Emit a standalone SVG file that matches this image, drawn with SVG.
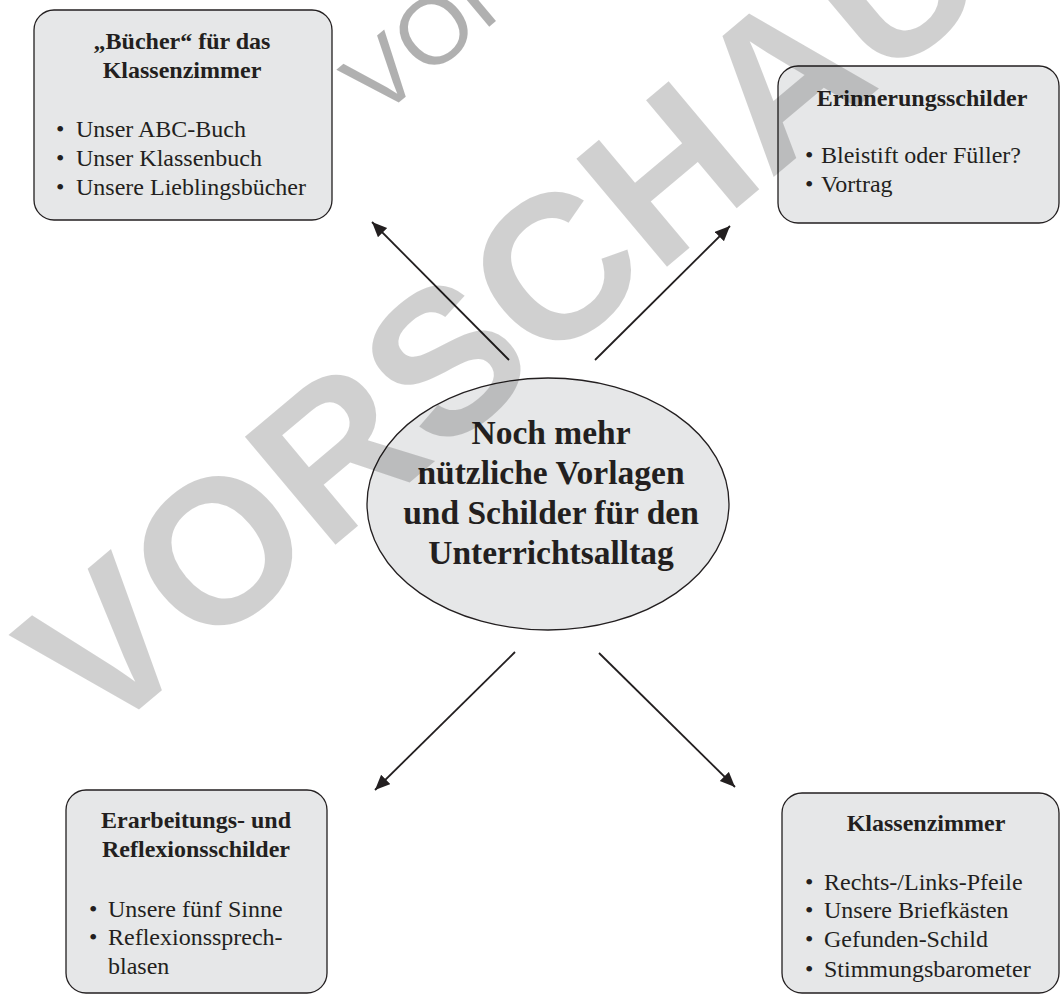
<svg xmlns="http://www.w3.org/2000/svg" width="1060" height="995" viewBox="0 0 1060 995">
<style>
.box{fill:#e6e7e8;stroke:#231f20;stroke-width:1.3}
.t{font-family:"Liberation Serif","Times New Roman",serif;fill:#231f20;font-size:24px}
.b{font-weight:bold}
.m{text-anchor:middle}
.big{font-family:"Liberation Serif","Times New Roman",serif;fill:#231f20;font-size:33.5px;font-weight:bold;text-anchor:middle}
.conn{stroke:#231f20;stroke-width:1.8;fill:none}
.wm{font-family:"Liberation Sans",Arial,sans-serif;fill:#000}
</style>
<defs>
<marker id="ah" markerUnits="userSpaceOnUse" markerWidth="18" markerHeight="14" refX="15" refY="6.5" orient="auto">
<path d="M0,0 L15,6.5 L0,13 Z" fill="#231f20"/>
</marker>
</defs>
<rect width="1060" height="995" fill="#fff"/>
<g id="node-buecher">
<rect class="box" x="34" y="10" width="298" height="210" rx="20"/>
<text class="t b m" x="182" y="49">„Bücher“ für das</text>
<text class="t b m" x="182" y="78">Klassenzimmer</text>
<text class="t" x="56" y="137">•</text><text class="t" x="76" y="137">Unser ABC-Buch</text>
<text class="t" x="56" y="166">•</text><text class="t" x="76" y="166">Unser Klassenbuch</text>
<text class="t" x="56" y="195">•</text><text class="t" x="76" y="195">Unsere Lieblingsbücher</text>
</g>
<g id="node-erinnerung">
<rect class="box" x="778" y="66" width="281" height="157" rx="20"/>
<text class="t b m" x="922" y="106">Erinnerungsschilder</text>
<text class="t" x="805" y="163">•</text><text class="t" x="821" y="163">Bleistift oder Füller?</text>
<text class="t" x="805" y="192">•</text><text class="t" x="821" y="192">Vortrag</text>
</g>
<g id="node-center">
<ellipse class="box" cx="548" cy="504" rx="181" ry="126"/>
<text class="big" x="551" y="444">Noch mehr</text>
<text class="big" x="551" y="484">nützliche Vorlagen</text>
<text class="big" x="551" y="524">und Schilder für den</text>
<text class="big" x="551" y="564">Unterrichtsalltag</text>
</g>
<g id="node-erarbeitung">
<rect class="box" x="66" y="790" width="261" height="203" rx="20"/>
<text class="t b m" x="196" y="828">Erarbeitungs- und</text>
<text class="t b m" x="196" y="857">Reflexionsschilder</text>
<text class="t" x="89" y="917">•</text><text class="t" x="108" y="917">Unsere fünf Sinne</text>
<text class="t" x="89" y="945">•</text><text class="t" x="108" y="945">Reflexionssprech-</text>
<text class="t" x="108" y="974">blasen</text>
</g>
<g id="node-klassenzimmer">
<rect class="box" x="782" y="793" width="277" height="200" rx="20"/>
<text class="t b m" x="926" y="831">Klassenzimmer</text>
<text class="t" x="805" y="890">•</text><text class="t" x="824" y="890">Rechts-/Links-Pfeile</text>
<text class="t" x="805" y="918">•</text><text class="t" x="824" y="918">Unsere Briefkästen</text>
<text class="t" x="805" y="947">•</text><text class="t" x="824" y="947">Gefunden-Schild</text>
<text class="t" x="805" y="977">•</text><text class="t" x="824" y="977">Stimmungsbarometer</text>
</g>
<g id="connectors">
<line class="conn" x1="509" y1="360" x2="372" y2="222" marker-end="url(#ah)"/>
<line class="conn" x1="595" y1="360" x2="730" y2="226" marker-end="url(#ah)"/>
<line class="conn" x1="515" y1="652" x2="375" y2="790" marker-end="url(#ah)"/>
<line class="conn" x1="599" y1="653" x2="735" y2="787" marker-end="url(#ah)"/>
</g>
<g id="watermark">
<text class="wm" font-weight="bold" font-size="205" fill-opacity="0.185" transform="translate(98,744) rotate(-40)">VORSCHAU</text>
<text class="wm" font-size="95" fill-opacity="0.31" transform="translate(378,120) rotate(-40)">VOR</text>
</g>
</svg>
